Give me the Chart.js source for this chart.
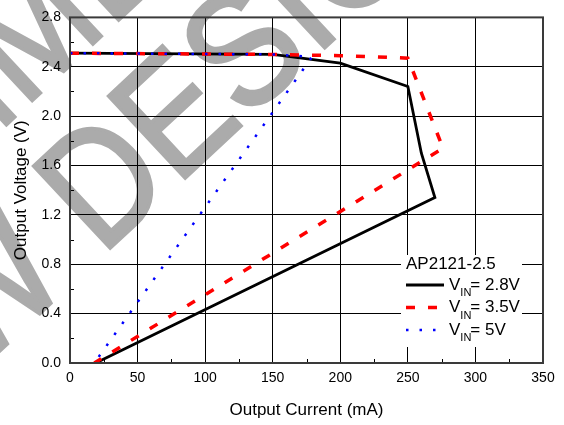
<!DOCTYPE html>
<html>
<head>
<meta charset="utf-8">
<script src="https://cdn.jsdelivr.net/npm/chart.js@4.4.0/dist/chart.umd.min.js"></script>
<style>
  html, body { margin: 0; padding: 0; background: #fff; }
</style>
</head>
<body>
<canvas id="ivGraph" width="564" height="425"></canvas>
<script>
const ctx = document.getElementById('ivGraph').getContext('2d');

// axis ticks
const currentTicks = [0, 50, 100, 150, 200, 250, 300, 350];
const voltageTicks = [0, 0.4, 0.8, 1.2, 1.6, 2.0, 2.4, 2.8];

// legend text
const partName = 'AP2121-2.5';
const vinLabels = ['= 2.8V', '= 3.5V', '= 5V'];

// V_IN = 2.8V
const vin28Current = [0, 150, 200, 250, 260, 270, 19];
const vin28Voltage = [2.51, 2.50, 2.43, 2.24, 1.70, 1.34, 0];
// V_IN = 3.5V
const vin35Current = [0, 150, 200, 250, 276, 18];
const vin35Voltage = [2.51, 2.50, 2.49, 2.47, 1.74, 0];
// V_IN = 5V
const vin5Current = [0, 150, 179, 172, 18];
const vin5Voltage = [2.51, 2.50, 2.48, 2.37, 0];

const FONT = "'Liberation Sans', Arial, sans-serif";

function toPoints(xs, ys) {
  return xs.map((x, i) => ({ x: x, y: ys[i] }));
}

const seriesStyles = [
  { color: '#000000', width: 2.8, dash: [] },
  { color: '#ff0000', width: 3.5, dash: [9, 13] },
  { color: '#0000ff', width: 2.5, dash: [2.5, 11] },
];

// watermark, legend box, minor ticks and frame
const decorations = {
  id: 'decorations',
  beforeDraw(chart) {
    const c = chart.ctx;
    c.save();
    c.fillStyle = '#fff';
    c.fillRect(0, 0, chart.width, chart.height);
    c.fillStyle = '#ababab';
    c.strokeStyle = '#ababab';
    c.lineWidth = 3;
    c.lineJoin = 'miter';
    c.font = '142px ' + FONT;
    c.textAlign = 'center';
    c.textBaseline = 'alphabetic';
    c.translate(165, 197);
    c.rotate(-43 * Math.PI / 180);
    c.scale(1, 1.15);
    c.fillText('NEW DESIGN', 0, 0);
    c.strokeText('NEW DESIGN', 0, 0);
    c.fillText('NOT RECOMMENDED FOR', 0, -140);
    c.strokeText('NOT RECOMMENDED FOR', 0, -140);
    c.restore();
  },
  afterDatasetsDraw(chart) {
    const c = chart.ctx;
    const a = chart.chartArea;
    const xs = chart.scales.x;
    const ys = chart.scales.y;
    c.save();

    // minor ticks
    c.strokeStyle = '#000';
    c.lineWidth = 1;
    c.beginPath();
    for (let i = 0; i < currentTicks.length - 1; i++) {
      const px = Math.round(xs.getPixelForValue((currentTicks[i] + currentTicks[i + 1]) / 2)) + 0.5;
      c.moveTo(px, a.bottom);
      c.lineTo(px, a.bottom - 4);
    }
    for (let i = 0; i < voltageTicks.length - 1; i++) {
      const py = Math.round(ys.getPixelForValue((voltageTicks[i] + voltageTicks[i + 1]) / 2)) + 0.5;
      c.moveTo(a.left, py);
      c.lineTo(a.left + 4, py);
    }
    c.stroke();

    // frame
    c.strokeStyle = '#3a3a3a';
    c.lineWidth = 2;
    c.strokeRect(a.left, a.top, a.right - a.left, a.bottom - a.top);

    // legend
    c.fillStyle = '#fff';
    c.fillRect(401, 255, 121, 92);
    c.fillStyle = '#000';
    c.textBaseline = 'middle';
    c.textAlign = 'left';
    c.font = '17px ' + FONT;
    c.fillText(partName, 406, 264);
    const rowY = [285, 307.5, 330];
    rowY.forEach((y, i) => {
      const st = seriesStyles[i];
      c.strokeStyle = st.color;
      c.lineWidth = st.width;
      c.setLineDash(st.dash);
      c.beginPath();
      c.moveTo(406, y);
      c.lineTo(444, y);
      c.stroke();
      c.setLineDash([]);
      c.fillStyle = '#000';
      c.font = '17px ' + FONT;
      c.fillText('V', 449, y);
      const vw = c.measureText('V').width;
      c.font = '11px ' + FONT;
      c.fillText('IN', 449 + vw, y + 8);
      const iw = c.measureText('IN').width;
      c.font = '17px ' + FONT;
      c.fillText(vinLabels[i], 449 + vw + iw - 1, y);
    });
    c.restore();
  }
};

const datasets = [
  { data: toPoints(vin28Current, vin28Voltage), order: 3 },
  { data: toPoints(vin35Current, vin35Voltage), order: 2 },
  { data: toPoints(vin5Current, vin5Voltage), order: 1 },
].map((d, i) => Object.assign(d, {
  showLine: true,
  borderColor: seriesStyles[i].color,
  borderWidth: seriesStyles[i].width,
  borderDash: seriesStyles[i].dash,
  borderCapStyle: 'butt',
  borderJoinStyle: 'miter',
  pointRadius: 0,
  tension: 0,
  fill: false,
}));

const ivGraph = new Chart(ctx, {
  type: 'scatter',
  data: { datasets: datasets },
  options: {
    responsive: false,
    animation: false,
    devicePixelRatio: 1,
    layout: { padding: { left: 0, right: 21, top: 15, bottom: 0 } },
    plugins: {
      legend: { display: false },
      tooltip: { enabled: false },
    },
    scales: {
      x: {
        type: 'linear',
        min: 0,
        max: 350,
        afterBuildTicks: s => { s.ticks = currentTicks.map(v => ({ value: v })); },
        afterFit: s => { s.height = 62; },
        ticks: {
          color: '#000',
          padding: 7,
          maxRotation: 0,
          font: { family: FONT, size: 14 },
        },
        grid: { color: '#000', lineWidth: 1, drawTicks: false },
        border: { display: false },
        title: {
          display: true,
          text: 'Output Current (mA)',
          color: '#000',
          font: { family: FONT, size: 17 },
          padding: { top: 4, bottom: 4 },
        },
      },
      y: {
        type: 'linear',
        min: 0,
        max: 2.8,
        afterBuildTicks: s => { s.ticks = voltageTicks.map(v => ({ value: v })); },
        afterFit: s => { s.width = 70; },
        ticks: {
          color: '#000',
          padding: 9,
          font: { family: FONT, size: 14 },
          callback: v => v.toFixed(1),
        },
        grid: { color: '#000', lineWidth: 1, drawTicks: false },
        border: { display: false },
        title: {
          display: true,
          text: 'Output Voltage (V)',
          color: '#000',
          font: { family: FONT, size: 17 },
          padding: { top: 11, bottom: 4 },
        },
      },
    },
  },
  plugins: [decorations],
});
</script>
</body>
</html>
